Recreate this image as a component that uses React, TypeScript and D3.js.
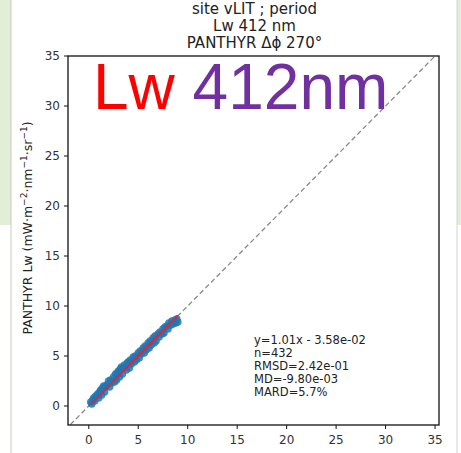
import * as d3 from "d3";

const W = 461;
const H = 453;

// in-situ Lw (x) and PANTHYR Lw (y)
const insitu = [0.2, 0.3, 0.4, 0.5, 0.6, 0.7, 0.9, 1.0, 1.1, 1.2, 1.3, 1.4, 1.5, 1.6, 1.7, 1.8, 2.0, 2.1, 2.2, 2.3, 2.5, 2.6, 2.7, 2.8, 2.9, 3.0, 3.1, 3.2, 3.3, 3.4, 3.5, 3.6, 3.8, 3.9, 4.0, 4.1, 4.2, 4.3, 4.5, 4.6, 4.7, 4.8, 5.0, 5.1, 5.2, 5.3, 5.5, 5.6, 5.7, 5.8, 6.0, 6.1, 6.2, 6.3, 6.5, 6.6, 6.7, 6.8, 7.0, 7.1, 7.2, 7.4, 7.5, 7.6, 7.7, 7.9, 8.0, 8.1, 8.3, 8.4, 8.5, 8.7, 8.8, 8.9, 9.0];
const panthyr = [0.4, 0.2, 0.6, 0.8, 0.5, 1.0, 1.2, 0.8, 1.4, 1.6, 1.1, 1.8, 2.0, 1.4, 1.9, 2.1, 2.5, 1.9, 2.6, 2.3, 2.9, 2.4, 3.2, 2.6, 3.3, 3.5, 2.9, 3.7, 3.9, 3.2, 3.8, 4.1, 3.6, 4.3, 4.4, 3.8, 4.6, 4.2, 4.9, 4.4, 5.0, 4.6, 5.3, 4.8, 5.5, 5.2, 5.8, 5.3, 6.0, 5.6, 6.3, 5.8, 6.5, 6.1, 6.8, 6.3, 7.0, 6.5, 7.2, 6.9, 7.4, 7.2, 7.7, 7.3, 7.9, 8.0, 7.7, 8.3, 8.1, 8.5, 8.2, 8.6, 8.3, 8.7, 8.4];

const ticks = [0, 5, 10, 15, 20, 25, 30, 35];
const titleLines = ["site vLIT ; period", "Lw 412 nm", "PANTHYR Δϕ 270°"];
const statLines = ["y=1.01x - 3.58e-02", "n=432", "RMSD=2.42e-01", "MD=-9.80e-03", "MARD=5.7%"];
const slope = 1.01;
const intercept = -0.0358;

const left = 68, right = 439, top = 56, bottom = 425;

export default function App() {
  const x = d3.scaleLinear().domain([-2.1, 35.4]).range([left, right]);
  const y = d3.scaleLinear().domain([-1.9, 35]).range([bottom, top]);

  const pts = insitu.map((v, i) => [v, panthyr[i]] as [number, number]);
  const xMin = d3.min(insitu)!;
  const xMax = d3.max(insitu)!;
  const fit = d3.line<number>().x((d) => x(d)).y((d) => y(slope * d + intercept));

  const font = "DejaVu Sans, sans-serif";
  const cx = (left + right) / 2;

  return (
    <svg width={W} height={H} style={{ position: "absolute", left: 0, top: 0 }}>
      <rect width={W} height={H} fill="#fff" />
      <rect x={0} y={0} width={11} height={225} fill="#e3eed8" />
      <rect x={457} y={0} width={4} height={225} fill="#e3eed8" />
      <line x1={11} x2={11} y1={0} y2={H} stroke="#c4cbbd" />
      <line x1={457} x2={457} y1={0} y2={H} stroke="#d0d4cc" />

      <defs>
        <clipPath id="plot">
          <rect x={left} y={top} width={right - left} height={bottom - top} />
        </clipPath>
      </defs>

      {titleLines.map((t, i) => (
        <text key={t} x={cx + 1} y={[14, 31, 47.5][i]} textAnchor="middle" fontFamily={font} fontSize={15} fill="#222">
          {t}
        </text>
      ))}

      <g clipPath="url(#plot)">
        <line x1={x(-3)} y1={y(-3)} x2={x(40)} y2={y(40)} stroke="#888" strokeWidth={1.3} strokeDasharray="5,3" />
        {pts.map((d, i) => (
          <circle key={i} cx={x(d[0])} cy={y(d[1])} r={3.8} fill="#1f77b4" fillOpacity={0.85} />
        ))}
        <path d={fit([xMin, xMax]) ?? ""} stroke="#d8283a" strokeWidth={2} fill="none" />
      </g>

      <rect x={left} y={top} width={right - left} height={bottom - top} fill="none" stroke="#111" strokeWidth={1.3} />

      {ticks.map((t) => (
        <g key={"x" + t}>
          <line x1={x(t)} x2={x(t)} y1={bottom} y2={bottom + 4} stroke="#111" />
          <text x={x(t)} y={bottom + 19} textAnchor="middle" fontFamily={font} fontSize={12} fill="#333">
            {t}
          </text>
        </g>
      ))}
      {ticks.map((t) => (
        <g key={"y" + t}>
          <line x1={left - 4} x2={left} y1={y(t)} y2={y(t)} stroke="#111" />
          <text x={left - 8} y={y(t) + 4} textAnchor="end" fontFamily={font} fontSize={12} fill="#333">
            {t}
          </text>
        </g>
      ))}

      <text transform={`translate(32,228) rotate(-90)`} textAnchor="middle" fontFamily={font} fontSize={12.5} fill="#222">
        PANTHYR Lw (mW·m<tspan baselineShift="super" fontSize={9}>−2</tspan>·nm<tspan baselineShift="super" fontSize={9}>−1</tspan>·sr<tspan baselineShift="super" fontSize={9}>−1</tspan>)
      </text>

      {statLines.map((s, i) => (
        <text key={s} x={254} y={344 + i * 13} fontFamily={font} fontSize={11.5} fill="#222">
          {s}
        </text>
      ))}

      <text x={93} y={109} fontFamily="Liberation Sans, Arial, sans-serif" fontSize={64}>
        <tspan fill="#ff0000">Lw </tspan>
        <tspan fill="#7030a0">412nm</tspan>
      </text>
    </svg>
  );
}
